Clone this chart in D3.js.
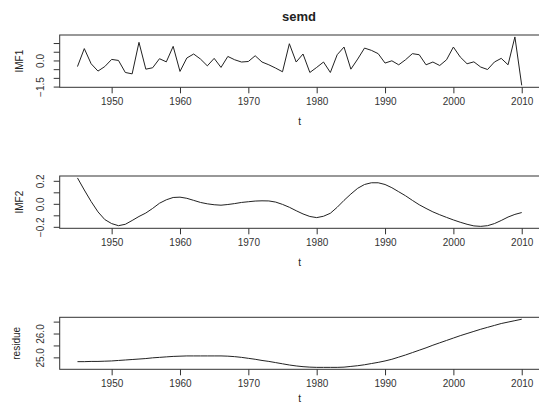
<!DOCTYPE html>
<html>
<head>
<meta charset="utf-8">
<script src="https://cdn.jsdelivr.net/npm/d3@7"></script>
<style>
  body { margin: 0; background: #fff; }
  svg { display: block; font-family: "Liberation Sans", Arial, sans-serif; }
</style>
</head>
<body>
<div id="chart-area"></div>
<script>
// años de la serie
var years = d3.range(1945, 2011);

// IMF1 (alta frecuencia)
var imf1 = [-0.35, 0.68, -0.19, -0.61, -0.35, 0.06, 0.0, -0.69, -0.77, 1.04,
            -0.5, -0.42, 0.1, -0.08, 0.81, -0.63, 0.14, 0.37, 0.08, -0.31,
            0.12, -0.4, 0.23, 0.04, -0.09, -0.06, 0.27, -0.09, -0.25, -0.44,
            -0.65, 0.96, -0.09, 0.37, -0.69, -0.4, -0.09, -0.69, 0.33, 0.77,
            -0.5, 0.08, 0.71, 0.58, 0.39, -0.15, -0.02, -0.25, 0.04, 0.39,
            0.33, -0.25, -0.09, -0.29, 0.04, 0.77, 0.2, -0.19, -0.08, -0.38,
            -0.52, -0.09, 0.12, -0.25, 1.35, -1.43];

// IMF2 (oscilación lenta)
var imf2 = [0.225, 0.12, 0.02, -0.07, -0.137, -0.172, -0.19, -0.178, -0.145, -0.11,
            -0.08, -0.04, 0.005, 0.035, 0.055, 0.058, 0.048, 0.03, 0.012, 0.0,
            -0.008, -0.012, -0.006, 0.002, 0.012, 0.018, 0.024, 0.026, 0.025, 0.015,
            -0.005, -0.03, -0.06, -0.088, -0.11, -0.12, -0.108, -0.082, -0.03, 0.03,
            0.085, 0.135, 0.168, 0.183, 0.183, 0.168, 0.14, 0.105, 0.07, 0.03,
            -0.008, -0.04, -0.07, -0.095, -0.118, -0.14, -0.16, -0.178, -0.192, -0.196,
            -0.19, -0.172, -0.145, -0.115, -0.092, -0.076];

// residuo (tendencia)
var residue = [24.82, 24.82, 24.83, 24.83, 24.84, 24.85, 24.87, 24.89, 24.91, 24.93,
               24.95, 24.98, 25.0, 25.02, 25.04, 25.05, 25.06, 25.06, 25.06, 25.06,
               25.06, 25.06, 25.05, 25.03, 25.0, 24.96, 24.92, 24.87, 24.83, 24.78,
               24.73, 24.68, 24.64, 24.61, 24.59, 24.58, 24.58, 24.58, 24.58, 24.59,
               24.62, 24.65, 24.69, 24.74, 24.79, 24.85, 24.92, 25.01, 25.1, 25.2,
               25.3, 25.4, 25.51, 25.61, 25.71, 25.81, 25.91, 26.0, 26.09, 26.18,
               26.26, 26.34, 26.42, 26.48, 26.54, 26.6];

// marcas de los ejes
var xTicks = [1950, 1960, 1970, 1980, 1990, 2000, 2010];
var imf1Ticks = [-1.5, -1.0, -0.5, 0.0, 0.5, 1.0];
var imf1Labels = [-1.5, 0.0];
var imf2Ticks = [-0.2, -0.1, 0.0, 0.1, 0.2];
var imf2Labels = [-0.2, 0.0, 0.2];
var resTicks = [25.0, 25.5, 26.0, 26.5];
var resLabels = [25.0, 26.0];

var W = 539, H = 403;
var left = 59.7, right = 539.5;

var svg = d3.select("#chart-area").append("svg")
    .attr("width", W)
    .attr("height", H);

// título
svg.append("text")
    .attr("x", 299)
    .attr("y", 21)
    .attr("text-anchor", "middle")
    .attr("font-size", 13)
    .attr("font-weight", "bold")
    .attr("fill", "#222")
    .text("semd");

// escala x común (con el 4% de margen, como R)
var xPad = (2010 - 1945) * 0.04;
var x = d3.scaleLinear()
    .domain([1945 - xPad, 2010 + xPad])
    .range([left, right]);

function drawPanel(values, top, bottom, ticks, labels, title, titleX, tY) {
    var ext = d3.extent(values);
    var pad = (ext[1] - ext[0]) * 0.04;
    var y = d3.scaleLinear()
        .domain([ext[0] - pad, ext[1] + pad])
        .range([bottom, top]);

    var g = svg.append("g");

    // serie
    g.append("path")
        .datum(years.map(function(d, i) { return [d, values[i]]; }))
        .attr("fill", "none")
        .attr("stroke", "#222")
        .attr("stroke-width", 1)
        .attr("d", d3.line()
            .x(function(d) { return x(d[0]); })
            .y(function(d) { return y(d[1]); }));

    // caja
    g.append("rect")
        .attr("x", left)
        .attr("y", top)
        .attr("width", right - left)
        .attr("height", bottom - top)
        .attr("fill", "none")
        .attr("stroke", "#333")
        .attr("stroke-width", 1);

    // eje x
    var ax = g.append("g")
        .attr("transform", "translate(0," + bottom + ")")
        .call(d3.axisBottom(x).tickValues(xTicks).tickFormat(d3.format("d"))
            .tickSize(6).tickPadding(5));
    ax.select(".domain").remove();
    ax.selectAll("line").attr("stroke", "#333");
    ax.selectAll("text")
        .attr("font-size", 10)
        .attr("font-family", "Liberation Sans, Arial, sans-serif")
        .attr("fill", "#333");

    // eje y con etiquetas giradas
    var ay = g.append("g")
        .attr("transform", "translate(" + left + ",0)")
        .call(d3.axisLeft(y).tickValues(ticks).tickSize(6)
            .tickFormat(function(d) {
                return labels.some(function(l) { return Math.abs(l - d) < 1e-9; })
                    ? d3.format(".1f")(d) : "";
            }));
    ay.select(".domain").remove();
    ay.selectAll("line").attr("stroke", "#333");
    ay.selectAll("text")
        .attr("transform", "rotate(-90)")
        .attr("x", 0)
        .attr("y", -19)
        .attr("dy", "0.35em")
        .attr("text-anchor", "middle")
        .attr("font-size", 10)
        .attr("font-family", "Liberation Sans, Arial, sans-serif")
        .attr("fill", "#333");

    // títulos de ejes
    g.append("text")
        .attr("transform", "translate(" + titleX + "," + ((top + bottom) / 2) + ") rotate(-90)")
        .attr("dy", "0.35em")
        .attr("text-anchor", "middle")
        .attr("font-size", 10)
        .attr("fill", "#222")
        .text(title);

    g.append("text")
        .attr("x", (left + right) / 2)
        .attr("y", tY)
        .attr("text-anchor", "middle")
        .attr("font-size", 10)
        .attr("fill", "#222")
        .text("t");
}

drawPanel(imf1, 35, 87.3, imf1Ticks, imf1Labels, "IMF1", 19.5, 125);
drawPanel(imf2, 176, 228.3, imf2Ticks, imf2Labels, "IMF2", 19.5, 266);
drawPanel(residue, 317.3, 369.3, resTicks, resLabels, "residue", 16.5, 401.5);
</script>
</body>
</html>
